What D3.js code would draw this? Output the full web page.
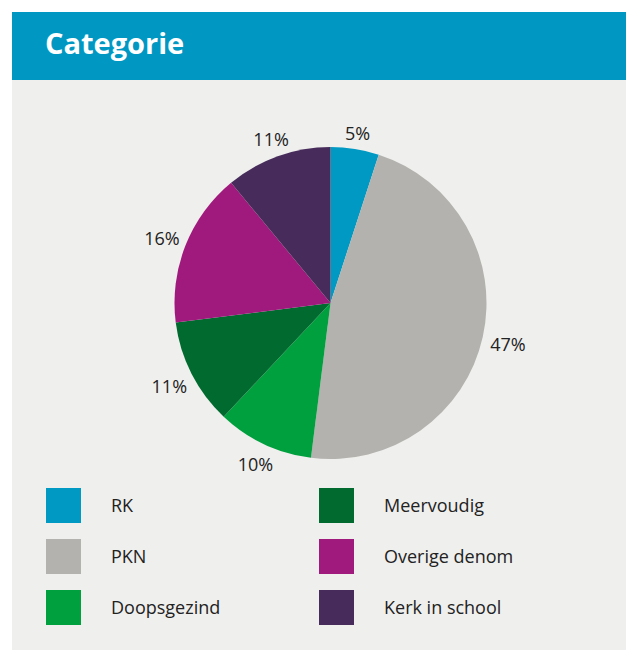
<!DOCTYPE html>
<html>
<head>
<meta charset="utf-8">
<script src="https://cdn.jsdelivr.net/npm/d3@7"></script>
<style>
  body { margin: 0; background: #fff; }
  svg { display: block; font-family: "Open Sans", "Noto Sans", sans-serif; }
</style>
</head>
<body>
<div id="chart"></div>
<script>
// data
let categories = ["RK", "PKN", "Doopsgezind", "Meervoudig", "Overige denom", "Kerk in school"];
let values = [5, 47, 10, 11, 16, 11];
let colors = ["#0099c3", "#b3b2ae", "#00a03e", "#006a2f", "#a0197d", "#472c5b"];
let title = "Categorie";

let w = 626, h = 650;
let cx = 330.5, cy = 303, radius = 156;

const svg = d3.select("#chart")
  .append("svg")
  .attr("width", w)
  .attr("height", h);

// panel + header
svg.append("rect")
  .attr("x", 12).attr("y", 80)
  .attr("width", w - 12).attr("height", h - 80)
  .attr("fill", "#efefed");
svg.append("rect")
  .attr("x", 12).attr("y", 12)
  .attr("width", w - 12).attr("height", 68)
  .attr("fill", "#0098c3");
svg.append("text")
  .attr("x", 45).attr("y", 54)
  .attr("fill", "#fff")
  .attr("font-size", 29)
  .attr("font-weight", "bold")
  .text(title);

let data = categories.map((c, i) => ({ name: c, value: values[i], color: colors[i] }));

let pie = d3.pie().value(d => d.value).sort(null);
let arc = d3.arc().innerRadius(0).outerRadius(radius);
let arcs = pie(data);

let g = svg.append("g").attr("transform", "translate(" + cx + "," + cy + ")");

g.selectAll("path")
  .data(arcs)
  .enter()
  .append("path")
  .attr("d", arc)
  .attr("fill", d => d.data.color);

// percent labels outside the pie, a bit further out on the sides
g.selectAll("text.pct")
  .data(arcs)
  .enter()
  .append("text")
  .attr("class", "pct")
  .attr("transform", d => {
    let a = (d.startAngle + d.endAngle) / 2;
    let r = 172 + 10 * Math.abs(Math.sin(a));
    return "translate(" + (r * Math.sin(a)) + "," + (-r * Math.cos(a) + 2) + ")";
  })
  .attr("text-anchor", "middle")
  .attr("dy", "0.35em")
  .attr("font-size", 18)
  .attr("fill", "#222")
  .text(d => d.data.value + "%");

// legend, two columns of three
let legend = svg.append("g").attr("id", "legend");
let item = legend.selectAll("g")
  .data(data)
  .enter()
  .append("g")
  .attr("transform", (d, i) => "translate(" + (i < 3 ? 46 : 319) + "," + (488 + (i % 3) * 51) + ")");

item.append("rect")
  .attr("width", 35)
  .attr("height", 35)
  .attr("fill", d => d.color);

item.append("text")
  .attr("x", 65)
  .attr("y", 17.5)
  .attr("dy", "0.35em")
  .attr("font-size", 18)
  .attr("fill", "#222")
  .text(d => d.name);
</script>
</body>
</html>
